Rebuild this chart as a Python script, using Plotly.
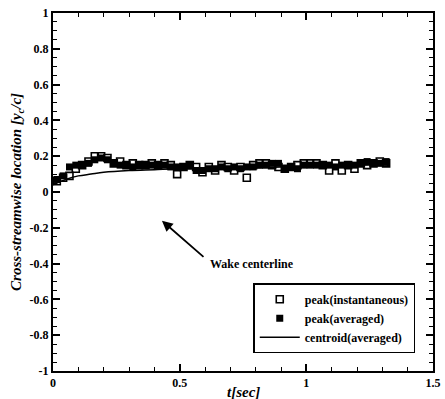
import plotly.graph_objects as go

t = [0.015, 0.04, 0.065, 0.09, 0.115, 0.14, 0.165, 0.19, 0.215, 0.24, 0.265, 0.29, 0.315, 0.34,
     0.365, 0.39, 0.415, 0.44, 0.465, 0.49, 0.515, 0.54, 0.565, 0.59, 0.615, 0.64, 0.665, 0.69,
     0.715, 0.74, 0.765, 0.79, 0.815, 0.84, 0.865, 0.89, 0.915, 0.94, 0.965, 0.99, 1.015, 1.04,
     1.065, 1.09, 1.115, 1.14, 1.165, 1.19, 1.215, 1.24, 1.265, 1.29, 1.315]
peak_inst = [0.06, 0.08, 0.09, 0.13, 0.15, 0.17, 0.20, 0.20, 0.19, 0.16, 0.17, 0.15, 0.16, 0.15,
             0.15, 0.16, 0.15, 0.16, 0.15, 0.10, 0.14, 0.15, 0.14, 0.11, 0.14, 0.12, 0.15, 0.14,
             0.12, 0.14, 0.08, 0.15, 0.16, 0.16, 0.15, 0.14, 0.13, 0.14, 0.15, 0.16, 0.16, 0.16,
             0.15, 0.12, 0.16, 0.12, 0.15, 0.13, 0.16, 0.15, 0.16, 0.17, 0.16]
peak_avg = [0.07, 0.09, 0.14, 0.15, 0.15, 0.16, 0.18, 0.19, 0.18, 0.16, 0.15, 0.15, 0.14, 0.15,
            0.15, 0.15, 0.15, 0.15, 0.14, 0.14, 0.14, 0.15, 0.12, 0.12, 0.13, 0.13, 0.14, 0.13,
            0.14, 0.13, 0.14, 0.14, 0.15, 0.15, 0.16, 0.16, 0.13, 0.14, 0.13, 0.15, 0.15, 0.15,
            0.15, 0.15, 0.14, 0.15, 0.15, 0.15, 0.16, 0.17, 0.16, 0.16, 0.17]
t_cent = [0.0, 0.05, 0.1, 0.15, 0.2, 0.3, 0.4, 0.5, 0.6, 0.7, 0.8, 0.9, 1.0, 1.1, 1.2, 1.33]
centroid = [0.04, 0.07, 0.09, 0.10, 0.11, 0.12, 0.125, 0.13, 0.13, 0.13, 0.135, 0.14, 0.14, 0.145, 0.15, 0.15]

y_ticks = [-1, -0.8, -0.6, -0.4, -0.2, 0, 0.2, 0.4, 0.6, 0.8, 1]
y_labels = ["-1", "-0.8", "-0.6", "-0.4", "-0.2", "0", "0.2", "0.4", "0.6", "0.8", "1"]
x_ticks = [0, 0.5, 1, 1.5]
x_labels = ["0", "0.5", "1", "1.5"]

font = "Liberation Serif"
fig = go.Figure()
fig.add_trace(go.Scatter(x=t, y=peak_inst, mode="markers", name="<b>peak(instantaneous)</b>",
                         marker=dict(symbol="square-open", size=7, color="black", line=dict(width=1.6))))
fig.add_trace(go.Scatter(x=t, y=peak_avg, mode="markers", name="<b>peak(averaged)</b>",
                         marker=dict(symbol="square", size=7, color="black")))
fig.add_trace(go.Scatter(x=t_cent, y=centroid, mode="lines", name="<b>centroid(averaged)</b>",
                         line=dict(color="black", width=1.5, shape="spline")))

axis_common = dict(showgrid=False, zeroline=False, showline=True, linecolor="black", linewidth=2,
                   mirror="ticks", ticks="inside", tickcolor="black", tickwidth=1.5, automargin=False,
                   tickfont=dict(family=font, size=12, color="black"))
fig.update_xaxes(range=[0, 1.5], tickvals=x_ticks, ticktext=["<b>%s</b>" % s for s in x_labels], ticklen=7,
                 minor=dict(dtick=0.1, ticklen=4, ticks="inside", tickcolor="black", tickwidth=1),
                 **axis_common)
fig.update_yaxes(range=[-1, 1], tickvals=y_ticks, ticktext=["<b>%s</b>" % s for s in y_labels], ticklen=7,
                 minor=dict(dtick=0.05, ticklen=4, ticks="inside", tickcolor="black", tickwidth=1),
                 **axis_common)

fig.add_annotation(x=0.5, y=-0.058, xref="paper", yref="paper", text="<b><i>t[sec]</i></b>",
                   showarrow=False, xanchor="center", yanchor="middle",
                   font=dict(family=font, size=15, color="black"))
fig.add_annotation(x=-0.095, y=0.5, xref="paper", yref="paper",
                   text="<b><i>Cross-streamwise location [y<sub>c</sub>/c]</i></b>",
                   showarrow=False, textangle=-90, xanchor="center", yanchor="middle",
                   font=dict(family=font, size=15, color="black"))

fig.add_annotation(x=0.43, y=-0.16, ax=0.60, ay=-0.37, xref="x", yref="y", axref="x", ayref="y",
                   showarrow=True, arrowhead=2, arrowsize=1.2, arrowwidth=1.8, arrowcolor="black", text="")
fig.add_annotation(x=0.61, y=-0.40, xref="x", yref="y", text="<b>Wake centerline</b>", showarrow=False,
                   xanchor="left", yanchor="middle", font=dict(family=font, size=12, color="black"))

fig.update_layout(width=445, height=399, margin=dict(l=53, r=12, t=13, b=28),
                  plot_bgcolor="white", paper_bgcolor="white", font=dict(family=font, color="black"),
                  showlegend=True,
                  legend=dict(x=0.527, y=0.245, xanchor="left", yanchor="top", bgcolor="white",
                              bordercolor="black", borderwidth=1.5,
                              font=dict(family=font, size=12, color="black"),
                              tracegroupgap=0, itemwidth=40))
fig.write_html("out.html")
